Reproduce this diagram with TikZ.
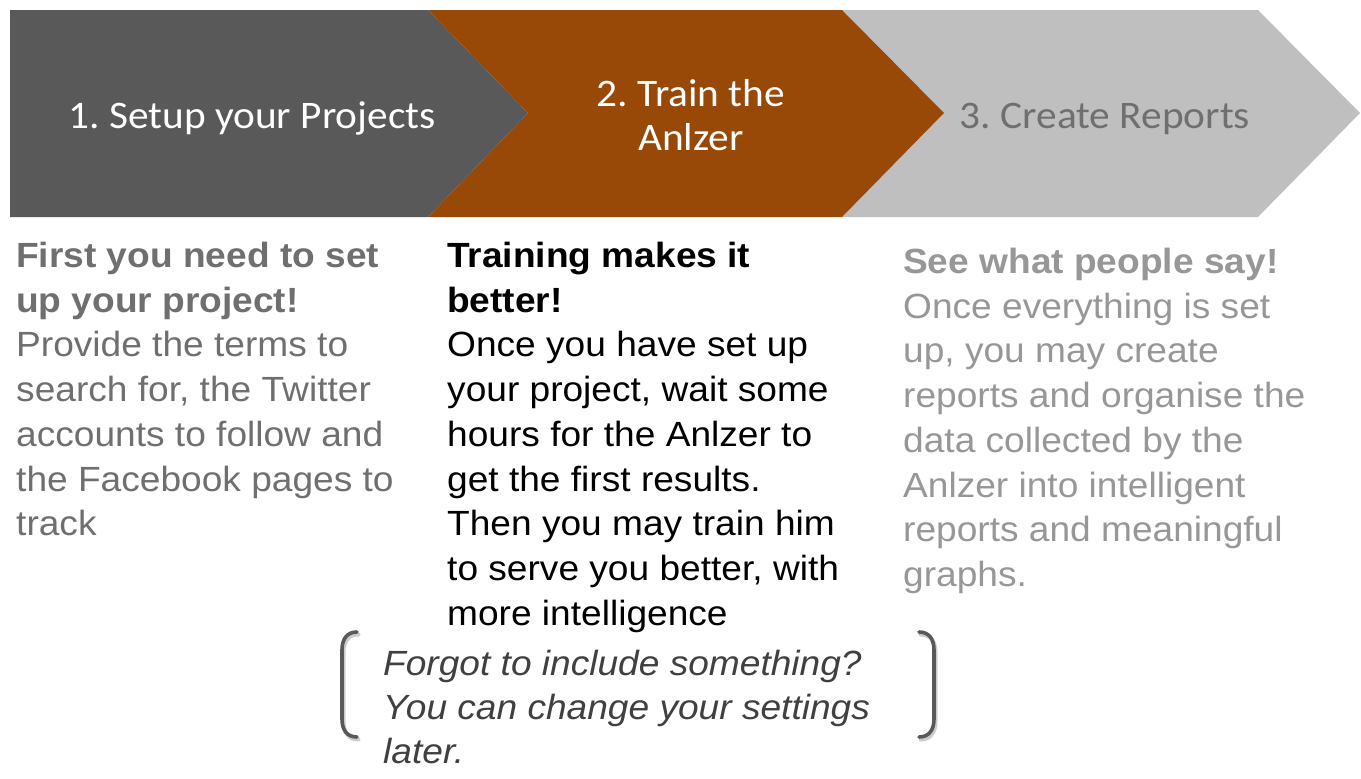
\documentclass[tikz,border=0pt]{standalone}
\usepackage{fontspec}
\newfontfamily\bodyfont[FakeStretch=1.06]{Liberation Sans}
\newfontfamily\titlefont[FakeStretch=1.06]{Carlito}
\definecolor{darkbox}{HTML}{595959}
\definecolor{rustbox}{HTML}{984807}
\definecolor{lightbox}{HTML}{BFBFBF}
\definecolor{colonegray}{HTML}{6F6F6F}
\definecolor{colthreegray}{HTML}{979797}
\definecolor{titlegray}{HTML}{6F6F6F}
\definecolor{notegray}{HTML}{404040}
\definecolor{bracketgray}{HTML}{595959}
\tikzset{
  titletext/.style={inner sep=0pt, align=center, font=\titlefont\fontsize{39}{44}\selectfont},
  bodytext/.style={inner sep=0pt, anchor=base west, align=left, font=\bodyfont\fontsize{35}{44.7}\selectfont},
  bracketline/.style={draw=bracketgray, line width=3.6pt, line cap=round},
  bracketshadow/.style={draw=black!20, line width=4pt, line cap=round}
}
\frenchspacing
\begin{document}
\begin{tikzpicture}[x=1pt,y=-1pt]
\useasboundingbox (0,0) rectangle (1361,779);
% chevrons
\fill[lightbox] (842,10) -- (1258,10) -- (1360,113) -- (1258,217) -- (842,217) -- (944,113) -- cycle;
\fill[rustbox] (428,10) -- (842,10) -- (944,113) -- (842,217) -- (428,217) -- (528,113) -- cycle;
\fill[darkbox] (10,10) -- (428,10) -- (528,113) -- (428,217) -- (10,217) -- cycle;
% titles
\node[titletext, text=white, anchor=base] (t1) at (252,128) {1. Setup your Projects};
\node[titletext, text=white, anchor=base] (t2a) at (691,106) {2. Train the};
\node[titletext, text=white, anchor=base] (t2b) at (691,150) {Anlzer};
\node[titletext, text=titlegray, anchor=base] (t3) at (1105,128) {3. Create Reports};
% body texts (anchor = baseline of the last line)
\node[bodytext, text=colonegray] (c1) at (16,535.7) {\textbf{First you need to set}\\\textbf{up your project!}\\Provide the terms to\\search for, the Twitter\\accounts to follow and\\the Facebook pages to\\track};
\node[bodytext, text=black] (c2) at (447,625.1) {\textbf{Training makes it}\\\textbf{better!}\\Once you have set up\\your project, wait some\\hours for the Anlzer to\\get the first results.\\Then you may train him\\to serve you better, with\\more intelligence};
\node[bodytext, text=colthreegray] (c3) at (903,586.4) {\textbf{See what people say!}\\Once everything is set\\up, you may create\\reports and organise the\\data collected by the\\Anlzer into intelligent\\reports and meaningful\\graphs.};
% bracketed note
\begin{scope}[shift={(1.5,2.5)}]
\draw[bracketshadow] (357,632) .. controls (347,632) and (342,639) .. (342,650) -- (342,719) .. controls (342,730) and (347,737) .. (357,737);
\draw[bracketshadow] (919,632) .. controls (929,632) and (934,639) .. (934,650) -- (934,719) .. controls (934,730) and (929,737) .. (919,737);
\end{scope}
\draw[bracketline] (357,632) .. controls (347,632) and (342,639) .. (342,650) -- (342,719) .. controls (342,730) and (347,737) .. (357,737);
\draw[bracketline] (919,632) .. controls (929,632) and (934,639) .. (934,650) -- (934,719) .. controls (934,730) and (929,737) .. (919,737);
\node[bodytext, text=notegray, font=\bodyfont\itshape\fontsize{35}{44}\selectfont] (note) at (383,763) {Forgot to include something?\\You can change your settings\\later.};
\end{tikzpicture}
\end{document}
